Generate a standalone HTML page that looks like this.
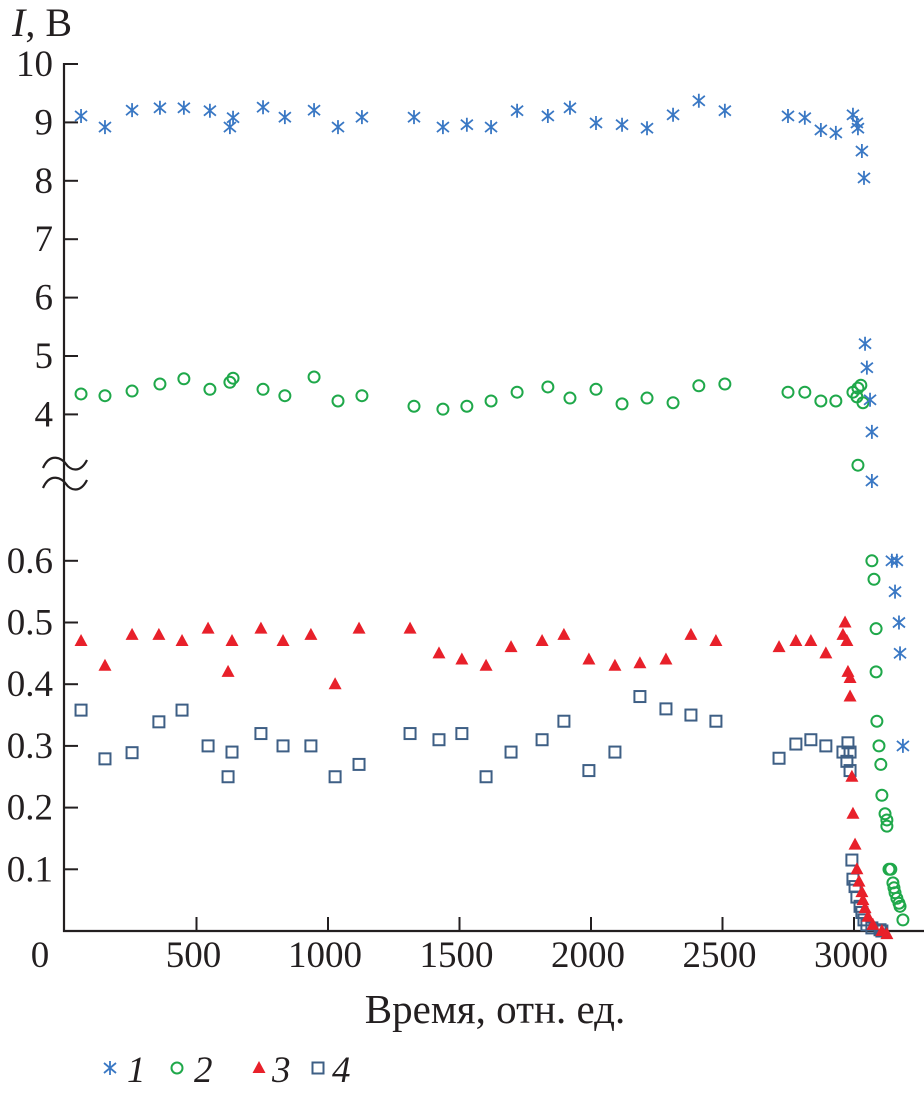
<!DOCTYPE html>
<html><head><meta charset="utf-8"><style>
body{margin:0;background:#fff}
svg{display:block;font-family:"Liberation Serif",serif}
</style></head><body>
<svg id="chart" width="924" height="1093" viewBox="0 0 924 1093" xmlns="http://www.w3.org/2000/svg">
<g id="axes"></g>
<g id="marks"></g>
</svg>
<script>
const xTicks=[0,500,1000,1500,2000,2500,3000];
const yTopTicks=[4,5,6,7,8,9,10];
const yBotTicks=[0.1,0.2,0.3,0.4,0.5,0.6];
const s1x=[61,152,255,361,452,551,627,639,753,836,947,1038,1129,1327,1437,1528,1620,1719,1836,1920,2019,2118,2213,2312,2410,2509,2749,2813,2874,2931,2996,3011,3015,3030,3038,3042,3049,3061,3068,3068,3144,3163,3156,3171,3175,3186];
const s1y=[9.11,8.92,9.21,9.25,9.25,9.20,8.92,9.08,9.26,9.09,9.21,8.92,9.09,9.09,8.92,8.96,8.92,9.20,9.11,9.25,8.99,8.96,8.90,9.13,9.37,9.20,9.11,9.08,8.87,8.82,9.13,8.99,8.90,8.51,8.05,5.21,4.80,4.25,3.70,2.86,0.60,0.60,0.55,0.50,0.45,0.30];
const s2x=[61,152,255,361,452,551,627,639,753,836,947,1038,1129,1327,1437,1528,1620,1719,1836,1920,2019,2118,2213,2312,2410,2509,2749,2813,2874,2931,2996,3015,3026,3011,3034,3015,3068,3076,3084,3084,3087,3095,3102,3106,3118,3125,3125,3133,3140,3148,3152,3156,3163,3171,3175,3186];
const s2y=[4.35,4.32,4.40,4.52,4.61,4.43,4.55,4.62,4.43,4.32,4.64,4.23,4.32,4.14,4.09,4.14,4.23,4.38,4.47,4.28,4.43,4.18,4.28,4.20,4.49,4.52,4.38,4.38,4.23,4.23,4.38,4.45,4.50,4.30,4.20,3.13,0.60,0.57,0.49,0.42,0.34,0.30,0.27,0.22,0.19,0.18,0.17,0.10,0.10,0.078,0.07,0.062,0.053,0.045,0.04,0.018];
const s3x=[61,152,255,357,445,544,620,635,745,829,935,1027,1118,1312,1422,1509,1601,1696,1814,1897,1992,2091,2186,2285,2380,2475,2715,2779,2836,2893,2958,2966,2973,2977,2985,2985,2992,2996,3004,3011,3019,3030,3034,3042,3053,3072,3106,3125];
const s3y=[0.47,0.43,0.48,0.48,0.47,0.49,0.42,0.47,0.49,0.47,0.48,0.40,0.49,0.49,0.45,0.44,0.43,0.46,0.47,0.48,0.44,0.43,0.434,0.44,0.48,0.47,0.46,0.47,0.47,0.45,0.48,0.50,0.47,0.42,0.41,0.38,0.25,0.19,0.14,0.10,0.08,0.063,0.05,0.037,0.023,0.01,0.0,-0.005];
const s4x=[61,152,255,357,445,544,620,635,745,829,935,1027,1118,1312,1422,1509,1601,1696,1814,1897,1992,2091,2186,2285,2380,2475,2715,2779,2836,2893,2958,2985,2973,2977,2985,2992,2996,3004,3011,3023,3030,3038,3049,3068,3099,3106];
const s4y=[0.358,0.279,0.289,0.339,0.358,0.30,0.25,0.29,0.32,0.30,0.30,0.25,0.27,0.32,0.31,0.32,0.25,0.29,0.31,0.34,0.26,0.29,0.38,0.36,0.35,0.34,0.28,0.303,0.31,0.30,0.29,0.29,0.275,0.305,0.26,0.115,0.084,0.072,0.055,0.04,0.03,0.018,0.01,0.005,0.002,0.0];

const NS="http://www.w3.org/2000/svg";
const X=v=>65+v*0.263;
const Y=v=>v>=1?64+(10-v)*58.4:931-v*617;
const axes=document.getElementById('axes'), marks=document.getElementById('marks');
function mk(tag,attrs,parent){const e=document.createElementNS(NS,tag);for(const k in attrs)e.setAttribute(k,attrs[k]);parent.appendChild(e);return e;}
const ink='#231f20';
let e;
e=mk('line',{x1:64,y1:63,x2:64,y2:932,stroke:ink,'stroke-width':2.2},axes);


e=mk('line',{x1:63,y1:931,x2:924,y2:931,stroke:ink,'stroke-width':2.2},axes);


e=mk('path',{d:'M43,468 C50,452 62,458 66,464 C70,470 80,474 87,460 M43,488 C50,472 62,478 66,484 C70,490 80,494 87,480',fill:'none',stroke:ink,'stroke-width':2.2},axes);


yTopTicks.concat(yBotTicks).forEach(v=>{
  const y=Y(v);
  e=mk('line',{x1:64,y1:y,x2:78,y2:y,stroke:ink,'stroke-width':2},axes);
  
  
  e=mk('text',{x:53,y:y+12,'text-anchor':'end','font-size':37,fill:ink},axes);
  e.textContent=v<1?v.toFixed(1):String(v);
  
  
});
xTicks.forEach(v=>{
  const x=X(v);
  if(v>0){e=mk('line',{x1:x,y1:931,x2:x,y2:917,stroke:ink,'stroke-width':2},axes);
  
  }
  e=mk('text',{x:v===0?40:x-3,y:967,'text-anchor':'middle','font-size':37,fill:ink},axes);
  e.textContent=String(v);
  
  
});
e=mk('text',{x:495,y:1023,'text-anchor':'middle','font-size':41,fill:ink},axes);
e.textContent='Время, отн. ед.';


e=mk('text',{x:12,y:36,'font-size':40,fill:ink},axes);
e.innerHTML='<tspan font-style="italic">I</tspan>, В';



const C1='#3a78c4',C2='#1fa84a',C3='#e8202a',C4='#3e5f85';
function star(x,y,p){const g=mk('g',{stroke:C1,'stroke-width':1.8,fill:'none'},p);
  mk('path',{d:`M${x},${y-7}V${y+7}M${x-6},${y-5}L${x+6},${y+5}M${x-6},${y+5}L${x+6},${y-5}`},g);return g;}
function circ(x,y,p){return mk('circle',{cx:x,cy:y,r:5.5,fill:'none',stroke:C2,'stroke-width':2},p);}
function tri(x,y,p){return mk('path',{d:`M${x},${y-7}L${x+6.5},${y+5}L${x-6.5},${y+5}Z`,fill:C3},p);}
function sq(x,y,p){return mk('rect',{x:x-5.5,y:y-5.5,width:11,height:11,fill:'none',stroke:C4,'stroke-width':2},p);}
s4x.forEach((v,i)=>{e=sq(X(v),Y(s4y[i]),marks);

});
s3x.forEach((v,i)=>{e=tri(X(v),Y(s3y[i]),marks);

});
s2x.forEach((v,i)=>{e=circ(X(v),Y(s2y[i]),marks);

});
s1x.forEach((v,i)=>{e=star(X(v),Y(s1y[i]),marks);

});

const lg=mk('g',{},axes);


const items=[[star,110,127,'1'],[circ,177,194,'2'],[tri,259,272,'3'],[sq,318,332,'4']];
items.forEach(it=>{const g=mk('g',{},lg);


it[0](it[1],1068,g);
const t=mk('text',{x:it[2],y:1082,'font-size':37,'font-style':'italic',fill:ink},g);t.textContent=it[3];});
</script>
</body></html>
